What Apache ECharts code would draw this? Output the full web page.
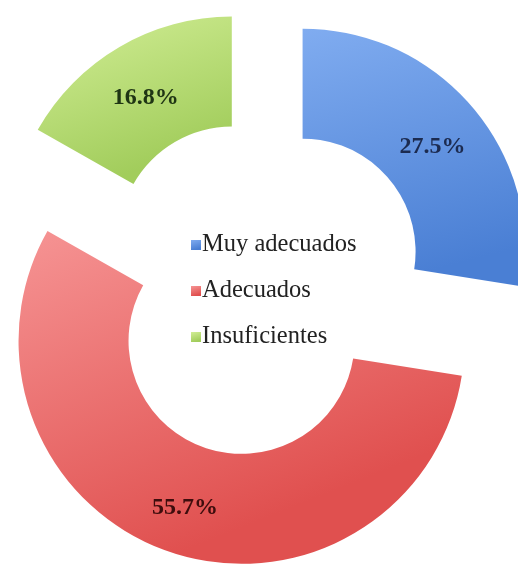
<!DOCTYPE html>
<html>
<head>
<meta charset="utf-8">
<script src="https://cdn.jsdelivr.net/npm/echarts@6/dist/echarts.min.js"></script>
<style>
  html, body { margin: 0; padding: 0; background: #ffffff; }
  #chart { width: 518px; height: 566px; }
</style>
</head>
<body>
<div id="chart"></div>
<script>
// Ratings of the materials, in percent
const categories = ['Muy adecuados', 'Adecuados', 'Insuficientes'];
const shares = [27.5, 55.7, 16.8];

// Per-slice fill gradients (light → dark) and label colours
const fillTop = ['#80acf0', '#f69494', '#d2ee96'];
const fillBottom = ['#4a7fd4', '#e0504f', '#a2cd5c'];
const labelColors = ['#1c2b50', '#3e0d0d', '#1f3514'];

const chart = echarts.init(document.getElementById('chart'), null, { renderer: 'canvas' });

const data = categories.map((name, i) => ({
  name: name,
  value: shares[i],
  selected: true,
  itemStyle: {
    color: new echarts.graphic.LinearGradient(0, 0, 0.3, 1, [
      { offset: 0, color: fillTop[i] },
      { offset: 1, color: fillBottom[i] }
    ])
  },
  label: { color: labelColors[i] }
}));

chart.setOption({
  backgroundColor: '#ffffff',
  animation: false,
  legend: {
    orient: 'vertical',
    left: 186,
    top: 227,
    itemWidth: 10,
    itemHeight: 10,
    itemGap: 20,
    icon: 'rect',
    selectedMode: false,
    data: categories,
    textStyle: {
      fontFamily: 'Liberation Serif',
      fontSize: 24.5,
      lineHeight: 26,
      color: '#222222',
      padding: [0, 0, 0, -4]
    }
  },
  series: [{
    type: 'pie',
    center: [260, 288],
    radius: [113, 223],
    startAngle: 90,
    clockwise: true,
    selectedMode: 'multiple',
    selectedOffset: 56,
    avoidLabelOverlap: false,
    emphasis: { disabled: true },
    label: {
      show: true,
      position: 'inside',
      // a thin spacer line above the value nudges it slightly below the ring's mid-line
      formatter: p => '{gap|}\n{val|' + p.value.toFixed(1) + '%}',
      fontFamily: 'Liberation Serif',
      fontWeight: 'bold',
      fontSize: 24,
      rich: {
        gap: { height: 12, lineHeight: 12, fontSize: 1 },
        val: { fontFamily: 'Liberation Serif', fontWeight: 'bold', fontSize: 24, lineHeight: 26 }
      }
    },
    labelLine: { show: false },
    data: data
  }]
});
</script>
</body>
</html>
